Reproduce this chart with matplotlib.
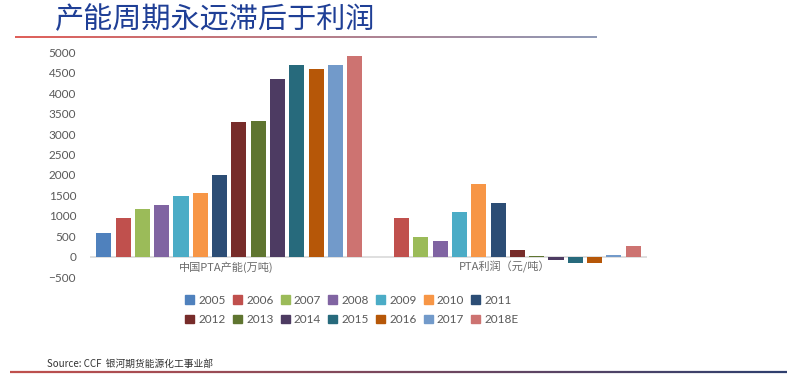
import numpy as np
import matplotlib
matplotlib.use("Agg")
import matplotlib.pyplot as plt
from matplotlib.patches import Patch
from matplotlib.collections import LineCollection
from matplotlib.colors import LinearSegmentedColormap

plt.rcParams['font.family'] = ['Lato', 'Noto Sans CJK SC', 'DejaVu Sans']

# data
categories = ['中国PTA产能(万吨)', 'PTA利润（元/吨）']
years = ['2005', '2006', '2007', '2008', '2009', '2010', '2011',
         '2012', '2013', '2014', '2015', '2016', '2017', '2018E']
capacity = [587, 940, 1160, 1257, 1493, 1550, 2000,
            3290, 3320, 4340, 4685, 4595, 4690, 4910]
profit = [np.nan, 940, 490, 392, 1088, 1785, 1310,
          157, 10, -80, -155, -155, 30, 270]
colors = ['#4F81BD', '#C0504D', '#9BBB59', '#8064A2', '#4BACC6', '#F79646', '#2C4D75',
          '#772C2A', '#5F7530', '#4D3B62', '#276A7C', '#B65708', '#729ACA', '#CD7371']

W, H = 802, 376
fig = plt.figure(figsize=(W / 100, H / 100), dpi=100)
fig.patch.set_facecolor('white')

# axes placed in pixel terms
x0, x1 = 90, 647
ytop, ybot = 52.3, 277.1
ax = fig.add_axes([x0 / W, 1 - ybot / H, (x1 - x0) / W, (ybot - ytop) / H])

pitch = 0.0693
width = 0.054
xs = np.arange(len(categories))
for i, yr in enumerate(years):
    off = (i - 6.5) * pitch
    vals = [capacity[i], profit[i]]
    ax.bar(xs + off, vals, width=width, color=colors[i], label=yr)

ax.set_xlim(-0.5, 1.5)
ax.set_ylim(-500, 5000)
ax.set_yticks(np.arange(-500, 5001, 500))
ax.set_xticks([])
for s in ax.spines.values():
    s.set_visible(False)
ax.axhline(0, color='#D9D9D9', lw=1.2, zorder=0)
ax.tick_params(axis='y', length=0, labelsize=8.5, labelcolor='#595959', pad=10)

# category labels sit just under the zero line
for x, c in zip(xs, categories):
    ax.text(x - 0.01, -110, c, ha='center', va='top', fontsize=8,
            color='#6B6B6B', family=['Noto Sans CJK SC', 'DejaVu Sans'])

# legend, row-major order across 7 columns
handles = [Patch(color=c) for c in colors]
order = []
for k in range(7):
    order += [k, k + 7]
leg = fig.legend([handles[k] for k in order], [years[k] for k in order],
                 ncol=7, loc='center', bbox_to_anchor=(352 / W, 1 - 310 / H),
                 frameon=False, fontsize=8.5, handlelength=0.75, handleheight=0.75,
                 handletextpad=0.35, columnspacing=0.62, labelspacing=0.7,
                 borderpad=0)
for t in leg.get_texts():
    t.set_color('#595959')

# title
fig.text(55 / W, 1 - 20 / H, '产能周期永远滞后于利润', fontsize=21, color='#1F3F96',
         va='center', ha='left', family=['Noto Sans CJK SC'])


def grad_line(xa, xb, y, c1, c2, lw):
    n = 200
    xx = np.linspace(xa, xb, n) / W
    yy = np.full(n, 1 - y / H)
    pts = np.array([xx, yy]).T.reshape(-1, 1, 2)
    segs = np.concatenate([pts[:-1], pts[1:]], axis=1)
    cmap = LinearSegmentedColormap.from_list('g', [c1, c2])
    lc = LineCollection(segs, colors=cmap(np.linspace(0, 1, n - 1)), lw=lw,
                        transform=fig.transFigure)
    fig.add_artist(lc)


grad_line(15, 597, 37, '#D9413A', '#7A86A8', 1.2)
grad_line(10, 787, 371.5, '#C0504D', '#2E3F6E', 1.6)

fig.text(47 / W, 1 - 364 / H, 'Source: CCF  银河期货能源化工事业部', fontsize=7,
         color='#333333', va='center', ha='left',
         family=['Noto Sans CJK SC', 'DejaVu Sans'])

fig.savefig('out.png', dpi=100, facecolor='white')
